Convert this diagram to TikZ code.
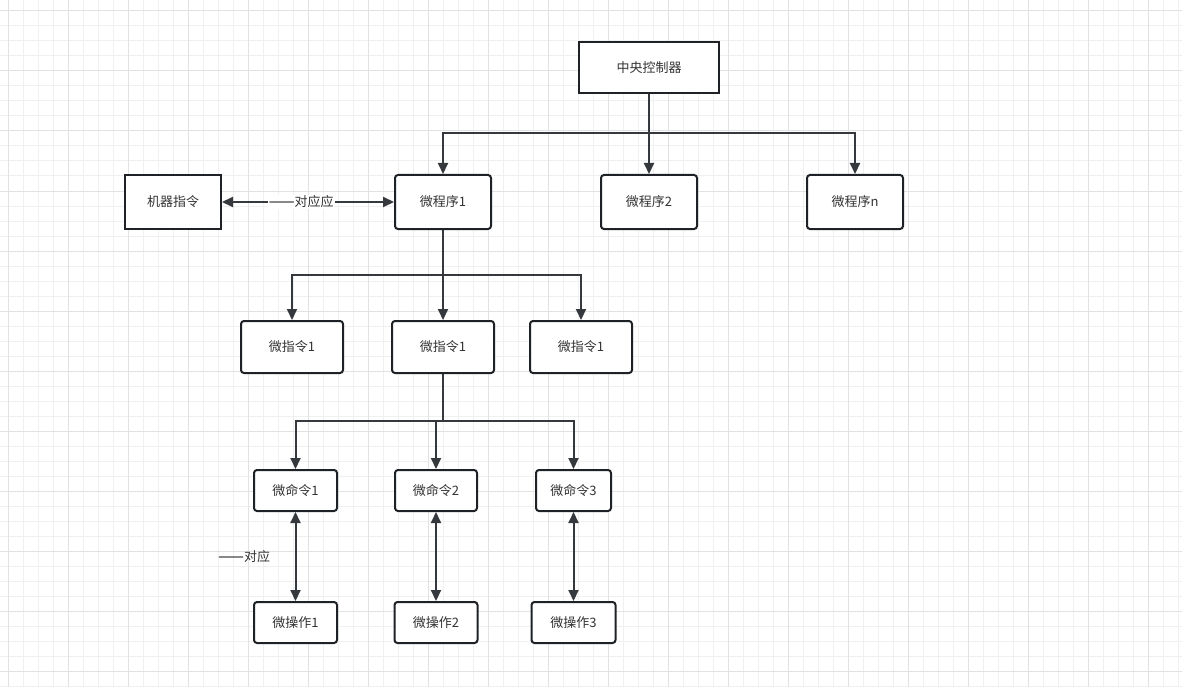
\documentclass[tikz,border=0pt]{standalone}
\usepackage{fontspec}
\setmainfont{Noto Sans CJK SC}
\newfontfamily\fwfont{Noto Sans CJK SC}[RawFeature=+fwid,FakeBold=2.5]
\usetikzlibrary{arrows.meta}
\definecolor{gridminor}{RGB}{240,240,240}
\definecolor{gridmajor}{RGB}{226,226,226}
\definecolor{boxline}{RGB}{30,34,38}
\definecolor{txt}{RGB}{51,51,51}
\begin{document}
\begin{tikzpicture}[x=1pt,y=-1pt,
  box/.style={draw=boxline,line width=2pt,fill=white,text=txt,inner sep=0pt,font=\fontsize{13}{15}\selectfont},
  rbox/.style={box,rounded corners=3pt},
  conn/.style={draw=boxline!90,line width=2pt},
  arr/.style={conn,-{Triangle[length=11pt,width=10pt]}},
  darr/.style={conn,{Triangle[length=11pt,width=10pt]}-{Triangle[length=11pt,width=10pt]}},
  lbl/.style={text=txt,inner sep=1pt,font=\fontsize{13}{15}\selectfont}]
\useasboundingbox (0,0) rectangle (1182,687);
\fill[white] (0,0) rectangle (1182,687);
\foreach \x in {8,23,...,1182} \draw[gridminor,line width=1pt] (\x,0) -- (\x,687);
\foreach \y in {11,26,...,687} \draw[gridminor,line width=1pt] (0,\y) -- (1182,\y);
\foreach \x in {8,68,...,1182} \draw[gridmajor,line width=1pt] (\x,0) -- (\x,687);
\foreach \y in {11,71,...,687} \draw[gridmajor,line width=1pt] (0,\y) -- (1182,\y);

\node[box,minimum width=140pt,minimum height=51pt] (ctrl) at (649,67.5) {中央控制器};
\node[box,minimum width=96pt,minimum height=54pt] (mach) at (173,202) {机器指令};
\node[rbox,minimum width=96pt,minimum height=54pt] (p1) at (443,202) {微程序1};
\node[rbox,minimum width=96pt,minimum height=54pt] (p2) at (649,202) {微程序2};
\node[rbox,minimum width=96pt,minimum height=54pt] (pn) at (855,202) {微程序n};

\node[rbox,minimum width=102pt,minimum height=52pt] (i1) at (292,347) {微指令1};
\node[rbox,minimum width=102pt,minimum height=52pt] (i2) at (443,347) {微指令1};
\node[rbox,minimum width=102pt,minimum height=52pt] (i3) at (581,347) {微指令1};

\node[rbox,minimum width=83pt,minimum height=41pt] (c1) at (295.5,490.5) {微命令1};
\node[rbox,minimum width=82pt,minimum height=41pt] (c2) at (436,490.5) {微命令2};
\node[rbox,minimum width=75pt,minimum height=41pt] (c3) at (573.5,490.5) {微命令3};

\node[rbox,minimum width=83pt,minimum height=41pt] (o1) at (295.5,622.5) {微操作1};
\node[rbox,minimum width=83pt,minimum height=41pt] (o2) at (436,622.5) {微操作2};
\node[rbox,minimum width=84pt,minimum height=41pt] (o3) at (573.5,622.5) {微操作3};

\coordinate (b1) at (649,133);
\coordinate (b2) at (443,275);
\coordinate (b3) at (443,421);

\draw[conn] (ctrl) -- (b1);
\draw[arr] (b1) -| (p1);
\draw[arr] (b1) -- (p2);
\draw[arr] (b1) -| (pn);

\draw[darr] (mach) -- node[pos=0.46,fill=white,lbl] {{\fwfont ——}对应应} (p1);

\draw[conn] (p1) -- (b2);
\draw[arr] (b2) -| (i1);
\draw[arr] (b2) -- (i2);
\draw[arr] (b2) -| (i3);

\draw[conn] (i2) -- (b3);
\draw[arr] (b3) -| (c1);
\draw[arr] (b3) -| (c2);
\draw[arr] (b3) -| (c3);

\draw[darr] (c1) -- (o1);
\draw[darr] (c2) -- (o2);
\draw[darr] (c3) -- (o3);

\node[lbl] (lab) at (244,557) {{\fwfont ——}对应};
\end{tikzpicture}
\end{document}
